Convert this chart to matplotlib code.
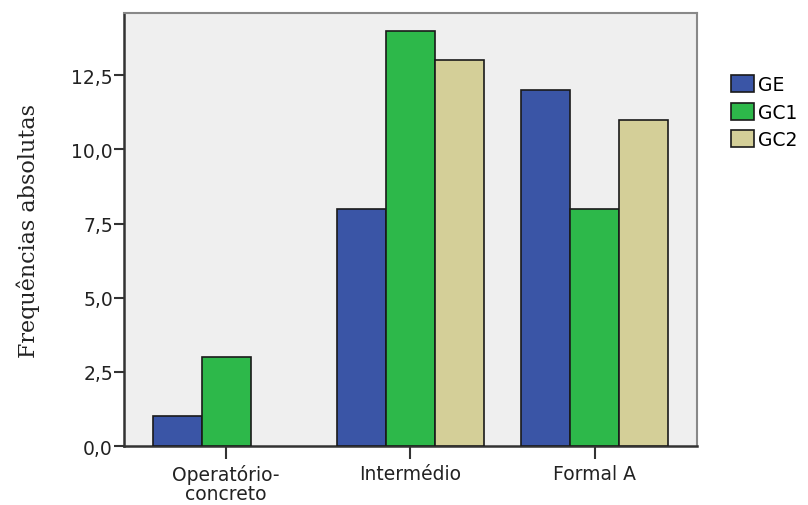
import numpy as np
import matplotlib.pyplot as plt

categories = ['Operatório-\nconcreto', 'Intermédio', 'Formal A']
series = ['GE', 'GC1', 'GC2']
ge = [1, 8, 12]
gc1 = [3, 14, 8]
gc2 = [0, 13, 11]
colors = ['#3a55a6', '#2db84a', '#d4cf98']
yticks = [0, 2.5, 5, 7.5, 10, 12.5]
ytick_labels = ['0,0', '2,5', '5,0', '7,5', '10,0', '12,5']

plt.rcParams['font.family'] = ['DejaVu Sans']

fig = plt.figure(figsize=(8.08, 5.06), dpi=100)
ax = fig.add_axes([0.1535, 0.1166, 0.709, 0.8557])
ax.set_facecolor('#efefef')

x = np.arange(len(categories))
w = 0.266
for i, (name, vals) in enumerate(zip(series, [ge, gc1, gc2])):
    vals = np.array(vals, dtype=float)
    mask = vals > 0
    ax.bar(x[mask] + (i - 1) * w, vals[mask], width=w, color=colors[i],
           edgecolor='#1a1a1a', linewidth=1.2, label=name, zorder=3)

ax.set_xlim(-0.554, 2.554)
ax.set_ylim(0, 14.6)
ax.set_xticks(x)
ax.set_xticklabels(categories, fontsize=13.5, color='#222222', linespacing=1.0)
ax.set_yticks(yticks)
ax.set_yticklabels(ytick_labels, fontsize=13.5, color='#222222')
ax.tick_params(axis='both', direction='out', width=1.5, color='#333333')
ax.tick_params(axis='x', length=9, pad=4)
ax.tick_params(axis='y', length=7, pad=1)
for side in ['top', 'right']:
    ax.spines[side].set_color('#888888')
    ax.spines[side].set_linewidth(1.5)
for side in ['left', 'bottom']:
    ax.spines[side].set_color('#333333')
    ax.spines[side].set_linewidth(1.8)

ax.set_ylabel('Frequências absolutas', fontsize=16, family='DejaVu Serif',
              color='#222222')
ax.yaxis.set_label_coords(-0.146, 0.5)

fig.legend(loc='upper left', bbox_to_anchor=(0.893, 0.868), frameon=False,
           fontsize=13.5, handlelength=1.25, handleheight=1.0, handletextpad=0.2,
           labelspacing=0.45, borderpad=0)

fig.savefig('out.png', dpi=100)
